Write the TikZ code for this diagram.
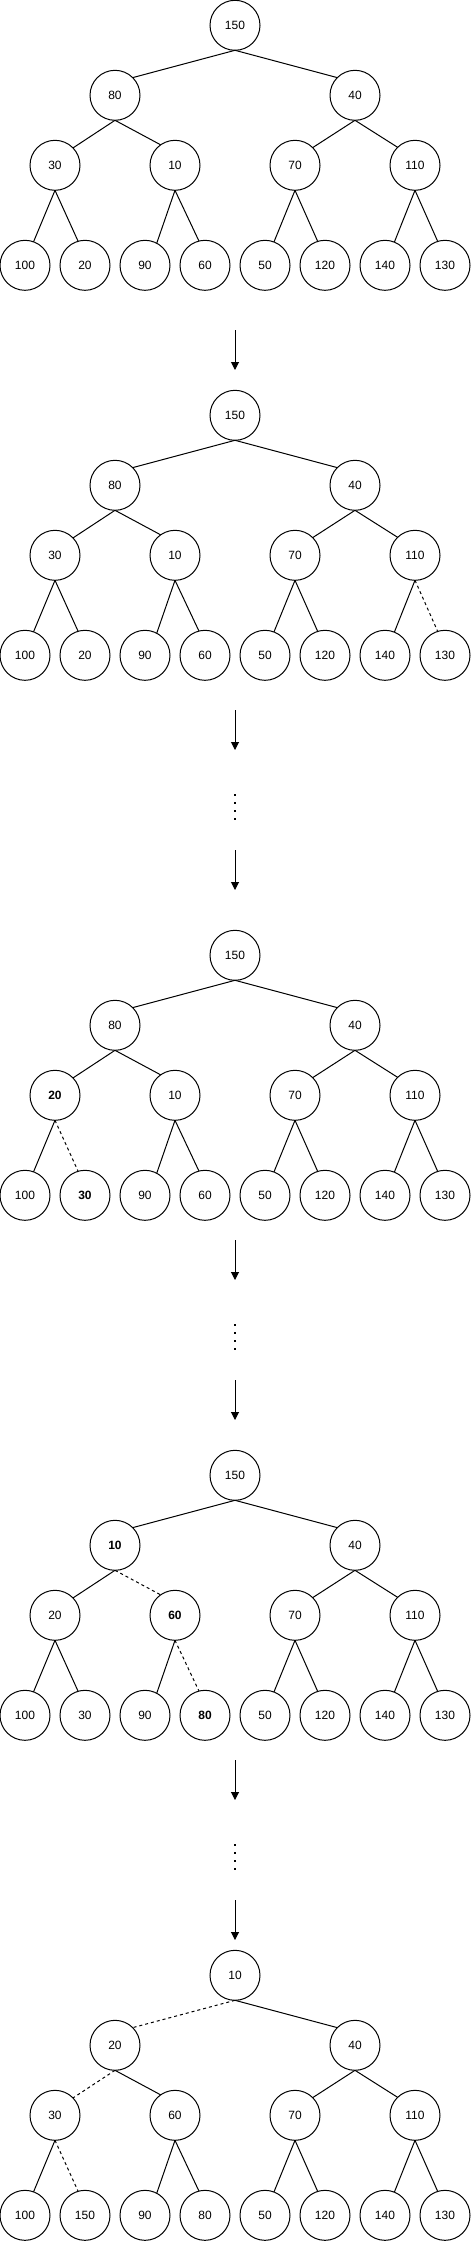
\documentclass[tikz,border=0pt]{standalone}
\usepackage{fontspec}
\setmainfont{Liberation Sans}
\usetikzlibrary{arrows.meta}
\tikzset{
  hnode/.style={circle, draw, line width=1pt, minimum size=50pt, inner sep=0pt, outer sep=0pt, font=\fontsize{12}{14}\selectfont},
  edge/.style={line width=1pt},
  dedge/.style={line width=1pt, dash pattern=on 3pt off 3pt},
  flow/.style={line width=1pt, -{Triangle[length=8pt,width=8pt]}},
  vdots/.style={line width=2pt, dash pattern=on 2pt off 6pt},
}
\newcommand\heaptree[4]{%
  \foreach \lab [count=\i from 0] in {#3}{
    \pgfmathsetmacro\nx{{235,115,355,55,175,295,415,25,85,145,205,265,325,385,445}[\i]}
    \pgfmathsetmacro\ny{{25.3,95.3,95.3,165.3,165.3,165.3,165.3,265.3,265.3,265.3,265.3,265.3,265.3,265.3,265.3}[\i]+#2}
    \node[hnode] (#1\i) at (\nx,\ny) {\lab};
  }
  \foreach \fl [count=\j from 1] in {#4}{
    \pgfmathtruncatemacro\pj{floor((\j-1)/2)}
    \pgfmathtruncatemacro\ang{{45,135,44,125,45,134,70,106,62,104,69,107,68,107}[\j-1]}
    \ifnum\fl=1
      \draw[dedge] (#1\pj.south) -- (#1\j.\ang);
    \else
      \draw[edge] (#1\pj.south) -- (#1\j.\ang);
    \fi
  }
}
\begin{document}
\begin{tikzpicture}[x=1pt,y=-1pt]
\useasboundingbox (0,0) rectangle (471,2241);
% tree 1
\heaptree{a}{0}{150,80,40,30,10,70,110,100,20,90,60,50,120,140,130}{0,0,0,0,0,0,0,0,0,0,0,0,0,0}
\coordinate (f1s) at (235,330); \coordinate (f1e) at (235,370);
\draw[flow] (f1s) -- (f1e);
% tree 2
\heaptree{b}{390}{150,80,40,30,10,70,110,100,20,90,60,50,120,140,130}{0,0,0,0,0,0,0,0,0,0,0,0,0,1}
\coordinate (f2s) at (235,710); \coordinate (f2e) at (235,750);
\draw[flow] (f2s) -- (f2e);
\coordinate (d1s) at (235,794); \coordinate (d1e) at (235,821);
\draw[vdots] (d1s) -- (d1e);
\coordinate (f3s) at (235,850); \coordinate (f3e) at (235,890);
\draw[flow] (f3s) -- (f3e);
% tree 3
\heaptree{c}{930}{150,80,40,\textbf{20},10,70,110,100,\textbf{30},90,60,50,120,140,130}{0,0,0,0,0,0,0,1,0,0,0,0,0,0}
\coordinate (f4s) at (235,1240); \coordinate (f4e) at (235,1280);
\draw[flow] (f4s) -- (f4e);
\coordinate (d2s) at (235,1324); \coordinate (d2e) at (235,1351);
\draw[vdots] (d2s) -- (d2e);
\coordinate (f5s) at (235,1380); \coordinate (f5e) at (235,1420);
\draw[flow] (f5s) -- (f5e);
% tree 4
\heaptree{d}{1450}{150,\textbf{10},40,20,\textbf{60},70,110,100,30,90,\textbf{80},50,120,140,130}{0,0,0,1,0,0,0,0,0,1,0,0,0,0}
\coordinate (f6s) at (235,1760); \coordinate (f6e) at (235,1800);
\draw[flow] (f6s) -- (f6e);
\coordinate (d3s) at (235,1844); \coordinate (d3e) at (235,1871);
\draw[vdots] (d3s) -- (d3e);
\coordinate (f7s) at (235,1900); \coordinate (f7e) at (235,1940);
\draw[flow] (f7s) -- (f7e);
% tree 5
\heaptree{e}{1950}{10,20,40,30,60,70,110,100,150,90,80,50,120,140,130}{1,0,1,0,0,0,0,1,0,0,0,0,0,0}
\end{tikzpicture}
\end{document}
